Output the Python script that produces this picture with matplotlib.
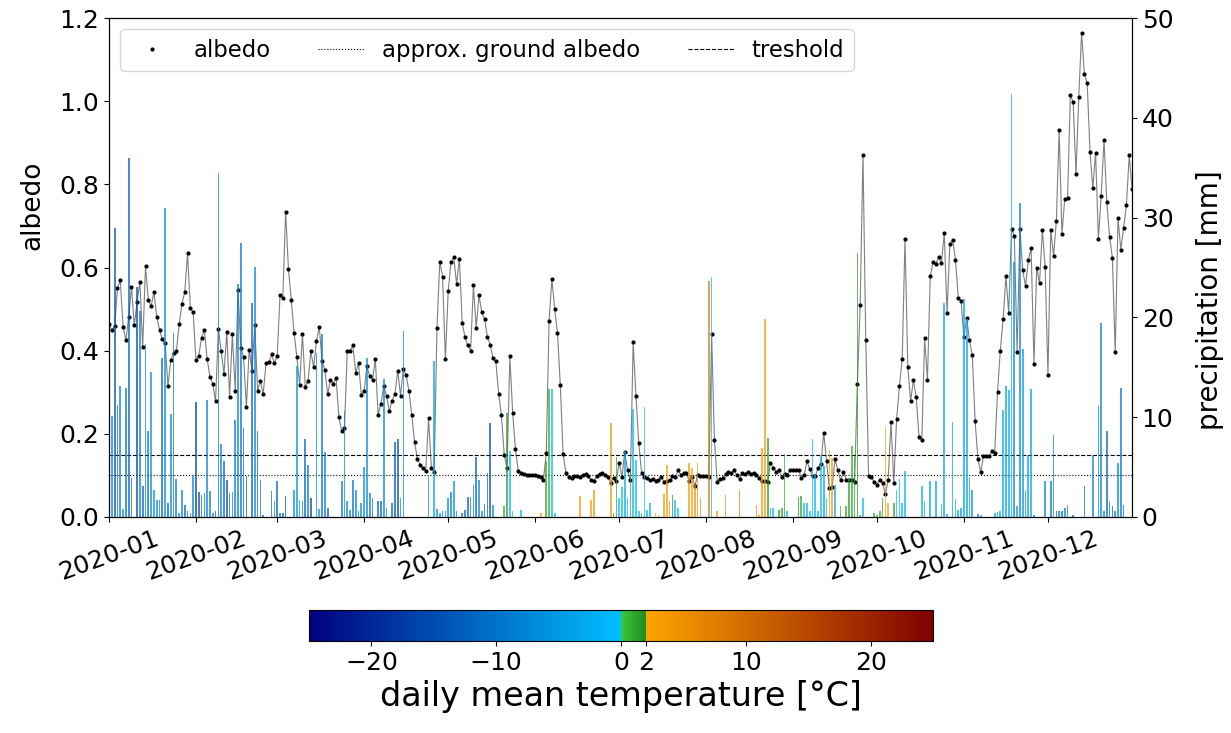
import numpy as np
import pandas as pd
import matplotlib
matplotlib.use('Agg')
import matplotlib.pyplot as plt
import matplotlib.dates as mdates
from matplotlib.colors import LinearSegmentedColormap, Normalize
from matplotlib.cm import ScalarMappable

# daily albedo, one list per month (2020)
alb_jan = [0.463, 0.449, 0.459, 0.551, 0.569, 0.458, 0.425, 0.481, 0.553, 0.461, 0.518, 0.565, 0.409, 0.603, 0.523, 0.507,
           0.541, 0.482, 0.450, 0.427, 0.419, 0.315, 0.377, 0.394, 0.398, 0.463, 0.512, 0.541, 0.635, 0.503, 0.492]
alb_feb = [0.378, 0.388, 0.431, 0.450, 0.380, 0.337, 0.320, 0.278, 0.453, 0.400, 0.343, 0.445, 0.289, 0.439, 0.304,
           0.547, 0.407, 0.384, 0.265, 0.402, 0.352, 0.462, 0.304, 0.327, 0.296, 0.370, 0.372, 0.391, 0.370]
alb_mar = [0.388, 0.533, 0.527, 0.734, 0.597, 0.523, 0.443, 0.385, 0.317, 0.441, 0.313, 0.327, 0.398, 0.360, 0.423, 0.457,
           0.375, 0.353, 0.295, 0.330, 0.321, 0.334, 0.241, 0.206, 0.214, 0.400, 0.400, 0.413, 0.346, 0.370, 0.294]
alb_apr = [0.302, 0.362, 0.339, 0.330, 0.380, 0.246, 0.272, 0.314, 0.292, 0.255, 0.280, 0.296, 0.352, 0.292, 0.356,
           0.341, 0.303, 0.246, 0.180, 0.140, 0.125, 0.117, 0.111, 0.237, 0.117, 0.109, 0.455, 0.614, 0.578, 0.379]
alb_may = [0.543, 0.613, 0.625, 0.560, 0.621, 0.467, 0.432, 0.413, 0.400, 0.557, 0.455, 0.533, 0.492, 0.476, 0.432, 0.414,
           0.382, 0.374, 0.296, 0.245, 0.149, 0.117, 0.386, 0.251, 0.163, 0.111, 0.106, 0.104, 0.102, 0.101, 0.100]
alb_jun = [0.100, 0.099, 0.097, 0.090, 0.154, 0.472, 0.573, 0.500, 0.443, 0.318, 0.152, 0.106, 0.096, 0.094, 0.098,
           0.098, 0.096, 0.100, 0.104, 0.098, 0.088, 0.087, 0.098, 0.104, 0.106, 0.100, 0.096, 0.082, 0.094, 0.087]
alb_jul = [0.131, 0.096, 0.157, 0.112, 0.088, 0.421, 0.290, 0.178, 0.106, 0.096, 0.093, 0.088, 0.091, 0.087, 0.088, 0.096,
           0.085, 0.087, 0.088, 0.098, 0.096, 0.112, 0.102, 0.106, 0.106, 0.087, 0.096, 0.074, 0.100, 0.098, 0.098]
alb_aug = [0.098, 0.096, 0.440, 0.184, 0.085, 0.091, 0.094, 0.104, 0.109, 0.106, 0.114, 0.100, 0.091, 0.106, 0.104, 0.109,
           0.104, 0.106, 0.100, 0.094, 0.087, 0.087, 0.085, 0.131, 0.119, 0.109, 0.112, 0.096, 0.104, 0.100, 0.113]
alb_sep = [0.113, 0.114, 0.114, 0.094, 0.100, 0.134, 0.115, 0.098, 0.098, 0.119, 0.128, 0.203, 0.134, 0.070, 0.071,
           0.139, 0.114, 0.088, 0.109, 0.090, 0.090, 0.088, 0.083, 0.320, 0.509, 0.871, 0.426, 0.098, 0.096, 0.084]
alb_oct = [0.078, 0.090, 0.081, 0.055, 0.090, 0.228, 0.082, 0.235, 0.314, 0.381, 0.669, 0.361, 0.279, 0.330, 0.288, 0.192,
           0.186, 0.430, 0.330, 0.579, 0.613, 0.609, 0.625, 0.611, 0.683, 0.491, 0.657, 0.667, 0.618, 0.527, 0.520]
alb_nov = [0.432, 0.479, 0.425, 0.389, 0.232, 0.140, 0.108, 0.146, 0.146, 0.146, 0.158, 0.155, 0.300, 0.400, 0.475,
           0.579, 0.491, 0.693, 0.675, 0.396, 0.693, 0.593, 0.555, 0.617, 0.647, 0.369, 0.600, 0.562, 0.691, 0.601]
alb_dec = [0.342, 0.691, 0.627, 0.713, 0.930, 0.681, 0.765, 0.767, 1.016, 0.997, 0.826, 1.010, 1.164, 1.065, 1.044, 0.879,
           0.791, 0.875, 0.669, 0.773, 0.907, 0.757, 0.673, 0.623, 0.396, 0.719, 0.643, 0.695, 0.750, 0.870, 0.789]

# daily mean temperature [°C]
t_jan = [-10, -8, -15, -12, -9, -7, -10, -13, -12, -10, -16, -9, -12, -8, -10, -7, -6, -8, -9, -12, -7, -13, -8, -10, -9,
         -6, -8, -12, -10, -9, -8]
t_feb = [-17, -15, -12, -10, -8, -9, -7, -14, -9, -8, -12, -15, -10, -7, -9, -8, -10, -12, -13, -9, -12, -8, -13, -10,
         -14, -12, -9, -10, -8]
t_mar = [-12, -10, -13, -15, -9, -8, -7, -6, -5, -8, -12, -9, -17, -7, -8, -6, -10, -9, -13, -12, -10, -14, -12, -9, -8,
         -7, -9, -10, -8, -12, -7]
t_apr = [-6, -7, -9, -10, -8, -12, -13, -8, -7, -10, -12, -14, -15, -8, -7, -6, -8, -9, -10, -7, -8, -5, -6, -7, -5, -4,
         -6, -7, -8, -6]
t_may = [-7, -8, -6, -9, -7, -10, -12, -13, -10, -9, -12, -8, -7, -10, -12, -15, -8, -6, -5, -2, 1.0, 1.5, -1, -2, -1,
         -2, -1, 0.5, 1, 2.5, 3]
t_jun = [3, 2.5, 4, 3.5, 1.2, 1.0, -1, -1, 0.5, 1, 3, 4, 5, 3, 2.5, 3.5, 4, 5, 3, 2, 3.5, 4, 5, 4.5, 3, 2.5, 3, 4, 1.5, 1.0]
t_jul = [-1, -0.5, -3, -1, 1, -1.5, -1, -0.5, 0.5, -0.2, -0.5, -1, 2, 3, 3, 4, 4, 3.5, 5, 1.5, -1, -0.5, 3, 4, 5, 4, 3, 5,
         4, 6, 5]
t_aug = [5, 8, -1, 3, 4, 5, 6, 5, 4, 6, 5, 4, 7, 5, 4, 6, 5, 4, 5, 4, 4, 3.5, 1.5, -1, -1.5, 1, 1.8, 1.2, 1.0, -1, 1]
t_sep = [1, 2, 1.8, 1.2, -1, -1.5, -1, -0.5, -1, -1, -0.5, -4, -1, 3, 3.5, -3, 1, 1, 1.5, 1.2, 1.5, 1.0, 1.3, 1.6, 0.5,
         -1, -2, -1, 0.5, 1]
t_oct = [0.5, 1, 1.5, 3, 2.5, 1, 1.2, -1, -1.5, -1, -1, -2, -3, -2, -3, -2, -2, -3, -3, -4, -5, -3, -2, -3, -3, -4, -5,
         -4, -3, -4, -5]
t_nov = [-4, -3.5, -5, -6, -8, -7, -5, -4, -5, -6, -8, -5, -6, -4, -3, -4, -3, -2, -7, -5, -8, -5, -6, -4, -4, -8, -9,
         -10, -9, -8]
t_dec = [-9, -10, -8, -12, -9, -10, -8, -9, -12, -13, -10, -9, -8, -10, -12, -9, -8, -10, -7, -8, -9, -12, -10, -13, -9,
         -8, -10, -12, -9, -8, -10]

# precipitation: day of year (0 = 1 Jan) and amount [mm]
rain_day = [1, 2, 3, 4, 5, 6, 7, 8, 10, 11, 12, 13, 14, 15, 16, 17, 18, 19, 20, 21, 22, 23, 24, 25, 26, 27, 28, 29, 30,
            31, 32, 33, 34, 35, 36, 37, 38, 39, 40, 41, 42, 43, 44, 45, 46, 47, 48, 49, 51, 52, 53, 54, 55, 58, 59, 60,
            61, 62, 63, 66, 67, 68, 69, 70, 71, 72, 74, 75, 76, 77, 78, 83, 84, 85, 86, 87, 88, 89, 90, 91, 92, 93, 94,
            96, 97, 98, 99, 101, 102, 103, 104, 105, 114, 116, 117, 118, 119, 120, 121, 122, 123, 124, 126, 127, 128,
            129, 130, 131, 132, 133, 134, 135, 136, 137, 141, 142, 143, 144, 147, 154, 156, 157, 158, 159, 168, 172,
            173, 179, 180, 181, 182, 183, 184, 185, 186, 187, 188, 189, 190, 191, 192, 193, 195, 196, 198, 199, 200,
            201, 202, 203, 207, 208, 209, 210, 211, 214, 215, 217, 220, 225, 231, 232, 233, 234, 235, 236, 237, 239,
            240, 241, 242, 246, 247, 248, 249, 250, 251, 252, 253, 254, 255, 256, 257, 258, 259, 261, 263, 264, 265,
            266, 267, 268, 269, 273, 274, 275, 276, 277, 278, 280, 281, 282, 283, 284, 290, 291, 293, 295, 297, 298,
            299, 301, 302, 303, 304, 305, 306, 307, 308, 310, 311, 316, 317, 318, 319, 320, 321, 322, 323, 324, 325,
            326, 327, 328, 329, 330, 334, 336, 337, 338, 339, 340, 341, 342, 344, 348, 351, 353, 354, 355, 356, 357,
            358, 359, 360, 361, 362]
rain_mm = [10.1, 29.0, 11.2, 13.1, 0.8, 12.9, 36.0, 3.9, 23.0, 20.6, 3.1, 17.3, 8.6, 14.5, 2.7, 1.7, 1.7, 15.9, 31.0,
           1.4, 10.3, 18.4, 3.8, 0.4, 2.7, 1.2, 0.6, 0.4, 4.2, 11.5, 2.5, 2.2, 2.4, 11.7, 2.6, 0.4, 0.6, 34.5, 7.3, 5.6,
           3.7, 2.4, 2.5, 9.7, 23.3, 27.5, 8.9, 4.1, 21.4, 25.1, 8.6, 3.7, 0.2, 2.6, 1.6, 3.6, 0.4, 0.4, 2.1, 2.7, 15.1,
           1.7, 1.6, 7.8, 5.2, 1.9, 16.4, 0.8, 18.3, 6.5, 0.9, 3.6, 10.6, 1.6, 0.7, 3.7, 2.7, 0.6, 1.4, 5.0, 15.9, 2.4,
           1.9, 1.6, 1.6, 13.8, 0.9, 1.4, 7.5, 7.8, 1.9, 18.6, 4.2, 15.6, 0.8, 0.4, 0.6, 0.6, 1.9, 2.5, 3.6, 0.6, 0.4,
           0.7, 2.0, 2.0, 3.2, 6.0, 3.7, 0.6, 1.3, 4.4, 9.4, 1.2, 1.1, 10.4, 6.6, 0.6, 0.7, 0.4, 5.6, 12.8, 12.8, 0.4,
           2.1, 1.7, 2.7, 9.4, 0.4, 6.0, 1.9, 3.0, 6.6, 1.9, 4.6, 10.8, 5.7, 0.6, 0.4, 11.0, 0.7, 1.4, 0.4, 0.2, 2.3,
           5.2, 1.6, 2.2, 1.7, 0.9, 5.4, 4.9, 3.2, 5.4, 1.9, 23.6, 24.0, 0.6, 2.2, 2.7, 1.2, 0.2, 6.9, 19.8, 7.9, 0.9,
           0.9, 0.7, 0.9, 6.3, 0.6, 2.0, 2.1, 1.4, 1.4, 0.6, 7.8, 4.2, 0.6, 6.1, 5.1, 1.9, 6.7, 5.9, 3.2, 1.1, 1.1, 3.9,
           7.1, 6.0, 26.5, 0.2, 1.9, 0.4, 0.2, 0.6, 1.9, 9.0, 1.4, 1.4, 2.7, 3.8, 1.4, 4.6, 3.1, 1.6, 3.6, 3.6, 1.3,
           21.4, 0.3, 9.5, 1.8, 0.7, 0.9, 21.8, 19.8, 4.0, 2.7, 0.3, 0.2, 0.4, 0.5, 0.6, 10.7, 13.1, 12.7, 42.4, 25.6,
           1.1, 31.5, 16.8, 2.6, 6.2, 12.8, 0.2, 3.6, 3.6, 8.2, 0.6, 0.6, 0.6, 0.9, 1.2, 0.2, 3.1, 6.2, 11.1, 19.4, 0.6,
           8.6, 1.6, 1.1, 0.6, 5.4, 12.9, 1.2]

ground_albedo = 0.1
threshold = 0.15

albedo = np.array(alb_jan + alb_feb + alb_mar + alb_apr + alb_may + alb_jun +
                  alb_jul + alb_aug + alb_sep + alb_oct + alb_nov + alb_dec)
temp = np.array(t_jan + t_feb + t_mar + t_apr + t_may + t_jun +
                t_jul + t_aug + t_sep + t_oct + t_nov + t_dec, dtype=float)
dates = pd.date_range('2020-01-01', '2020-12-31', freq='D')
rain_dates = dates[rain_day]

# colour map: blue below 0, green 0..2, orange->red above 2
cmap = LinearSegmentedColormap.from_list('temp', [
    (0.0, '#000080'), (0.5, '#00bfff'),
    (0.5, '#3cc83c'), (0.54, '#228b22'),
    (0.54, '#ffa500'), (1.0, '#800000')], N=1024)
norm = Normalize(vmin=-25, vmax=25)

fig = plt.figure(figsize=(12.31, 7.33), dpi=100)
ax = fig.add_axes([0.0886, 0.2947, 0.8310, 0.6807])
ax2 = ax.twinx()

ax.plot(dates, albedo, '-', color='grey', lw=0.8)
l_alb, = ax.plot(dates, albedo, '.', color='k', ms=4, label='albedo')
l_gr = ax.axhline(ground_albedo, color='k', ls=':', lw=0.8, label='approx. ground albedo')
l_th = ax.axhline(threshold, color='k', ls='--', lw=0.8, label='treshold')

ax2.bar(rain_dates, rain_mm, width=0.6, color=cmap(norm(temp[rain_day])), alpha=0.7)

ax.set_ylim(0, 1.2)
ax2.set_ylim(0, 50)
ax.set_xlim(dates[0], dates[-1])
ax.xaxis.set_major_locator(mdates.MonthLocator())
ax.xaxis.set_major_formatter(mdates.DateFormatter('%Y-%m'))
for lbl in ax.get_xticklabels():
    lbl.set_rotation(20)

ax.tick_params(labelsize=18)
ax2.tick_params(labelsize=18)
ax.set_ylabel('albedo', fontsize=19)
ax2.set_ylabel('precipitation [mm]', fontsize=20)
ax.yaxis.set_label_coords(-0.062, 0.625)
ax2.yaxis.set_label_coords(1.063, 0.435)

ax2.legend(handles=[l_alb, l_gr, l_th], loc='upper left', ncol=3, fontsize=16.4, columnspacing=2.1)

cax = fig.add_axes([0.251, 0.1255, 0.507, 0.0423])
cb = fig.colorbar(ScalarMappable(norm=norm, cmap=cmap), cax=cax, orientation='horizontal',
                  ticks=[-20, -10, 0, 2, 10, 20])
cb.ax.tick_params(labelsize=18)
cb.set_label('daily mean temperature [°C]', fontsize=24)

fig.savefig('out.png', dpi=100)
